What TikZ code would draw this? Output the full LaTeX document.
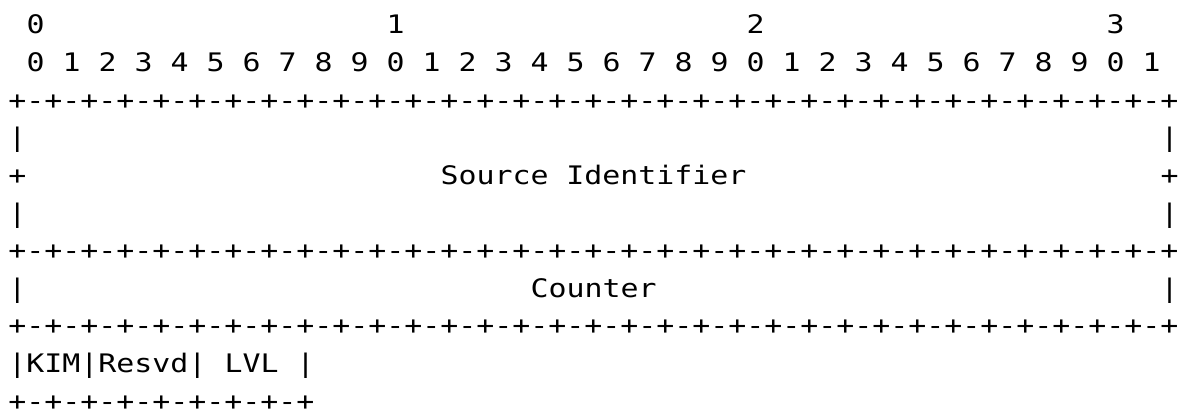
\documentclass[tikz,border=0pt]{standalone}
\usepackage{fontspec}
\newfontfamily\asciimono{DejaVu Sans Mono}[FakeStretch=1.1725]
\begin{document}
\begin{tikzpicture}[x=1pt,y=1pt,
  txt/.style={anchor=base west, inner sep=0pt, outer sep=0pt, text=black,
    font=\asciimono\fontsize{25.5}{30}\selectfont}]
\useasboundingbox (0,0) rectangle (1188,-412);
\def\cx#1{8.5+18*(#1)}
\def\by#1{-(34+37.6*(#1-1))}
% line 1: tens digits
\node[txt] (t0) at ({\cx{1}},{\by{1}}) {0};
\node[txt] (t1) at ({\cx{21}},{\by{1}}) {1};
\node[txt] (t2) at ({\cx{41}},{\by{1}}) {2};
\node[txt] (t3) at ({\cx{61}},{\by{1}}) {3};
% line 2: unit digits
\foreach \i [evaluate=\i as \d using {int(mod(\i,10))}] in {0,...,31}
  \node[txt] (u\i) at ({\cx{2*\i+1}},{\by{2}}) {\d};
% line 3
\node[txt] (r3) at ({\cx{0}},{\by{3}}) {+-+-+-+-+-+-+-+-+-+-+-+-+-+-+-+-+-+-+-+-+-+-+-+-+-+-+-+-+-+-+-+-+};
% lines 4-6
\node[txt] (l4a) at ({\cx{0}},{\by{4}}) {|};
\node[txt] (l4b) at ({\cx{64}},{\by{4}}) {|};
\node[txt] (l5a) at ({\cx{0}},{\by{5}}) {+};
\node[txt] (src) at ({\cx{24}},{\by{5}}) {Source Identifier};
\node[txt] (l5b) at ({\cx{64}},{\by{5}}) {+};
\node[txt] (l6a) at ({\cx{0}},{\by{6}}) {|};
\node[txt] (l6b) at ({\cx{64}},{\by{6}}) {|};
% line 7
\node[txt] (r7) at ({\cx{0}},{\by{7}}) {+-+-+-+-+-+-+-+-+-+-+-+-+-+-+-+-+-+-+-+-+-+-+-+-+-+-+-+-+-+-+-+-+};
% line 8
\node[txt] (l8a) at ({\cx{0}},{\by{8}}) {|};
\node[txt] (cnt) at ({\cx{29}},{\by{8}}) {Counter};
\node[txt] (l8b) at ({\cx{64}},{\by{8}}) {|};
% line 9
\node[txt] (r9) at ({\cx{0}},{\by{9}}) {+-+-+-+-+-+-+-+-+-+-+-+-+-+-+-+-+-+-+-+-+-+-+-+-+-+-+-+-+-+-+-+-+};
% line 10
\node[txt] (kim) at ({\cx{0}},{\by{10}}) {|KIM|Resvd|};
\node[txt] (lvl) at ({\cx{12}},{\by{10}}) {LVL};
\node[txt] (l10b) at ({\cx{16}},{\by{10}}) {|};
% line 11
\node[txt] (r11) at ({\cx{0}},{\by{11}}) {+-+-+-+-+-+-+-+-+};
\end{tikzpicture}
\end{document}
